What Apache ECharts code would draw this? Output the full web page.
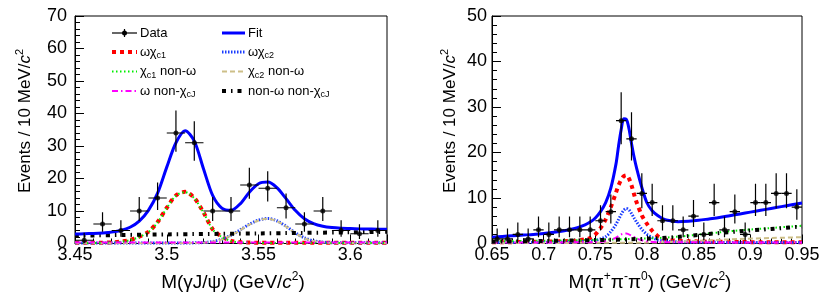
<!DOCTYPE html>
<html><head><meta charset="utf-8">
<script src="https://cdn.jsdelivr.net/npm/echarts@6/dist/echarts.min.js"></script>
<style>html,body{margin:0;padding:0;background:#fff}#c{width:830px;height:297px}</style>
</head><body><div id="c"></div>
<script>
// ---------------- Left panel: M(gamma J/psi) ----------------
const leftBins   = [3.455,3.465,3.475,3.485,3.495,3.505,3.515,3.525,3.535,3.545,3.555,3.565,3.575,3.585,3.595,3.605,3.615];
const leftCounts = [1,6,4,10,14,34,31,10,10,18,17,11,6,10,4,3,4];
const leftErrLo  = [0.83,2.38,1.91,3.11,3.7,5.8,5.55,3.11,3.11,4.2,4.1,3.27,2.38,3.11,1.91,1.63,1.91];
const leftErrHi  = [2.3,3.58,3.16,4.27,4.8,6.9,6.6,4.27,4.27,5.3,5.2,4.42,3.58,4.27,3.16,2.92,3.16];

const leftCurveX = [3.450,3.455,3.460,3.465,3.470,3.475,3.480,3.485,3.490,3.495,3.500,3.505,3.510,3.515,3.520,3.525,3.530,3.535,3.540,3.545,3.550,3.555,3.560,3.565,3.570,3.575,3.580,3.585,3.590,3.595,3.600,3.605,3.610,3.615,3.620];
const leftFit     = [2.9,3.0,3.1,3.25,3.5,4.0,5.0,6.9,10.2,15.5,23.5,31.0,34.7,31.5,23.0,14.8,10.9,10.2,12.2,15.8,18.4,18.9,17.2,13.8,10.2,7.6,6.1,5.3,4.9,4.7,4.6,4.5,4.45,4.4,4.4];
const leftWChic1  = [0.2,0.2,0.2,0.25,0.35,0.6,1.1,2.1,3.6,6.6,11.0,14.8,15.9,14.0,9.6,4.4,2.1,0.8,0.4,0.3,0.2,0.2,0.2,0.2,0.2,0.2,0.2,0.2,0.2,0.2,0.2,0.2,0.2,0.2,0.2];
const leftChic1NonW = [0.15,0.15,0.15,0.2,0.3,0.55,1.05,2.0,3.5,6.5,10.9,14.7,15.8,13.9,9.5,4.3,2.0,0.75,0.35,0.25,0.15,0.15,0.15,0.15,0.15,0.15,0.15,0.15,0.15,0.15,0.15,0.15,0.15,0.15,0.15];
const leftWChic2  = [0.15,0.15,0.15,0.15,0.15,0.15,0.15,0.15,0.15,0.15,0.15,0.15,0.15,0.2,0.3,0.6,1.3,2.5,4.2,5.9,7.2,7.7,7.0,5.3,3.3,1.7,0.8,0.4,0.25,0.2,0.2,0.2,0.2,0.2,0.2];
const leftChic2NonW = [0.1,0.1,0.1,0.1,0.1,0.1,0.1,0.1,0.1,0.1,0.1,0.1,0.1,0.15,0.25,0.55,1.25,2.45,4.1,5.8,7.1,7.6,6.9,5.2,3.2,1.6,0.75,0.35,0.2,0.15,0.15,0.15,0.15,0.15,0.15];
const leftWNonChiX = [3.45,3.62];
const leftWNonChi  = [0.3,0.3];
const leftBkgX = [3.45,3.50,3.55,3.60,3.62];
const leftBkg  = [2.4,2.8,3.1,3.45,3.6];

// ---------------- Right panel: M(pi+ pi- pi0) ----------------
const rightBins   = [0.655,0.665,0.675,0.685,0.695,0.705,0.715,0.725,0.735,0.745,0.755,0.765,0.775,0.785,0.795,0.805,0.815,0.825,0.835,0.845,0.855,0.865,0.875,0.885,0.895,0.905,0.915,0.925,0.935,0.945];
const rightCounts = [1,1,2,1,3,2,3,3,3,3,5,7,27,23,11,9,5,5,3,6,2,9,3,7,2,9,9,11,11,8];
const rightErrLo  = [0.83,0.83,1.29,0.83,1.63,1.29,1.63,1.63,1.63,1.63,2.16,2.58,5.16,4.77,3.27,2.94,2.16,2.16,1.63,2.38,1.29,2.94,1.63,2.58,1.29,2.94,2.94,3.27,3.27,2.77];
const rightErrHi  = [2.3,2.3,2.64,2.3,2.92,2.64,2.92,2.92,2.92,2.92,3.38,3.77,6.23,5.86,4.42,4.11,3.38,3.38,2.92,3.58,2.64,4.11,2.92,3.77,2.64,4.11,4.11,4.42,4.42,3.95];

const rightCurveX = [0.650,0.660,0.670,0.680,0.690,0.700,0.710,0.720,0.730,0.740,0.745,0.750,0.755,0.760,0.765,0.770,0.7725,0.775,0.7775,0.780,0.7825,0.785,0.7875,0.790,0.795,0.800,0.805,0.810,0.815,0.820,0.830,0.840,0.850,0.860,0.870,0.880,0.890,0.900,0.910,0.920,0.930,0.940,0.950];
const rightFit    = [1.4,1.55,1.7,1.85,2.0,2.2,2.45,2.8,3.3,4.1,4.7,5.6,7.0,9.0,12.2,17.5,21.5,25.0,27.4,27.3,25.3,22.0,19.0,16.5,12.3,8.9,7.2,6.2,5.5,5.1,4.8,4.9,5.1,5.4,5.7,6.1,6.5,6.9,7.3,7.7,8.1,8.5,8.9];
const rightWChic1 = [0.3,0.3,0.3,0.35,0.4,0.4,0.45,0.5,0.6,0.9,1.2,2.0,3.4,5.3,8.0,11.2,12.8,14.0,14.8,15.0,14.3,12.8,10.8,9.0,6.2,4.3,2.8,1.7,1.1,0.8,0.6,0.5,0.45,0.4,0.4,0.35,0.35,0.3,0.3,0.3,0.3,0.3,0.3];
const rightWChic2 = [0.2,0.2,0.2,0.2,0.2,0.25,0.25,0.3,0.35,0.45,0.55,0.7,1.0,1.5,2.6,4.2,5.3,6.4,7.3,7.7,7.4,6.6,5.6,4.7,3.1,2.0,1.3,0.8,0.6,0.45,0.35,0.3,0.25,0.25,0.25,0.2,0.2,0.2,0.2,0.2,0.2,0.2,0.2];
const rightWNonChiX = [0.65,0.75,0.76,0.765,0.77,0.775,0.78,0.785,0.79,0.795,0.80,0.81,0.95];
const rightWNonChi  = [0.2,0.3,0.5,0.8,1.3,2.0,2.2,1.7,1.1,0.7,0.45,0.3,0.2];
const rightBkgX = [0.65,0.70,0.75,0.80,0.83,0.86,0.89,0.92,0.95];
const rightChic1NonW = [0.5,0.6,0.8,1.1,1.5,2.2,2.9,3.4,3.9];
const rightBkg       = [0.4,0.55,0.75,1.05,1.45,2.1,2.7,3.2,3.75];
const rightChic2X = [0.65,0.75,0.80,0.83,0.86,0.89,0.92,0.95];
const rightChic2NonW = [0.1,0.15,0.2,0.4,0.7,1.0,1.2,1.4];

// axis ranges
const leftXRange = [3.45, 3.62], rightXRange = [0.65, 0.95];
const leftYMax = 70, rightYMax = 50;

// ---------------- drawing ----------------
const FONT = '"Liberation Sans", Arial, Helvetica, sans-serif';
const chart = echarts.init(document.getElementById('c'), null, {renderer: 'canvas'});
const pairs = (xs, ys) => xs.map((x, i) => [x, ys[i]]);

const styles = {
  fit:    {color: '#0000ff', width: 3, type: 'solid'},
  wc1:    {color: '#ff0000', width: 4, type: [4, 4]},
  wc2:    {color: '#1a3cff', width: 3, type: [1.5, 1.5]},
  c1nw:   {color: '#00ee00', width: 2, type: [1.5, 2.5]},
  c2nw:   {color: '#cdbf88', width: 2, type: [5, 3]},
  wnc:    {color: '#ff00ff', width: 2, type: [6, 3, 1.5, 3]},
  bkg:    {color: '#000000', width: 4, type: [4, 5, 1.5, 5]}
};

function curve(idx, data, st, z) {
  return {
    type: 'line', xAxisIndex: idx, yAxisIndex: idx, data: data,
    showSymbol: false, symbol: 'none', smooth: 0.3,
    lineStyle: {color: st.color, width: st.width, type: st.type, cap: 'butt'},
    z: z, silent: true, animation: false, clip: true
  };
}

function errSeries(idx, xs, ys, lo, hi, halfBin) {
  return {
    type: 'custom', xAxisIndex: idx, yAxisIndex: idx, z: 20, clip: true,
    data: xs.map((x, i) => [x, ys[i], lo[i], hi[i]]),
    encode: {x: 0, y: 1},
    renderItem: function (params, api) {
      const x = api.value(0), y = api.value(1), l = api.value(2), h = api.value(3);
      const a = api.coord([x, y - l]), b = api.coord([x, y + h]);
      const c = api.coord([x - halfBin, y]), d = api.coord([x + halfBin, y]);
      return {type: 'group', children: [
        {type: 'line', shape: {x1: a[0], y1: a[1], x2: b[0], y2: b[1]}, style: {stroke: '#000', lineWidth: 1.2}},
        {type: 'line', shape: {x1: c[0], y1: c[1], x2: d[0], y2: d[1]}, style: {stroke: '#000', lineWidth: 1.2}}
      ]};
    },
    animation: false
  };
}
function dotSeries(idx, xs, ys) {
  return {type: 'scatter', xAxisIndex: idx, yAxisIndex: idx, data: pairs(xs, ys),
    symbol: 'circle', symbolSize: 5, itemStyle: {color: '#000'}, z: 21, animation: false, silent: true};
}

function xAxis(gi, range, showMax) {
  return {
    type: 'value', gridIndex: gi, min: range[0], max: range[1], interval: 0.05,
    axisLine: {show: true, onZero: false, lineStyle: {color: '#000', width: 1}},
    axisTick: {show: true, inside: true, length: 9, lineStyle: {color: '#000'}},
    minorTick: {show: true, splitNumber: 5, length: 5, lineStyle: {color: '#000'}},
    splitLine: {show: false},
    axisLabel: {color: '#000', fontFamily: FONT, fontSize: 18, margin: 3, showMaxLabel: showMax,
      formatter: v => String(+v.toFixed(2))}
  };
}
function yAxis(gi, max, margin) {
  return {
    type: 'value', gridIndex: gi, min: 0, max: max, interval: 10,
    axisLine: {show: true, lineStyle: {color: '#000', width: 1}},
    axisTick: {show: true, inside: true, length: 9, lineStyle: {color: '#000'}},
    minorTick: {show: true, splitNumber: 5, length: 5, lineStyle: {color: '#000'}},
    splitLine: {show: false},
    axisLabel: {color: '#000', fontFamily: FONT, fontSize: 18, margin: margin}
  };
}

const series = [
  curve(0, pairs(leftCurveX, leftWChic1), styles.wc1, 2),
  curve(0, pairs(leftCurveX, leftWChic2), styles.wc2, 3),
  curve(0, pairs(leftCurveX, leftChic2NonW), styles.c2nw, 4),
  curve(0, pairs(leftCurveX, leftChic1NonW), styles.c1nw, 5),
  curve(0, pairs(leftWNonChiX, leftWNonChi), styles.wnc, 6),
  curve(0, pairs(leftBkgX, leftBkg), styles.bkg, 7),
  curve(0, pairs(leftCurveX, leftFit), styles.fit, 10),
  errSeries(0, leftBins, leftCounts, leftErrLo, leftErrHi, 0.005),
  dotSeries(0, leftBins, leftCounts),

  curve(1, pairs(rightCurveX, rightWChic1), styles.wc1, 2),
  curve(1, pairs(rightCurveX, rightWChic2), styles.wc2, 3),
  curve(1, pairs(rightChic2X, rightChic2NonW), styles.c2nw, 4),
  curve(1, pairs(rightBkgX, rightChic1NonW), styles.c1nw, 5),
  curve(1, pairs(rightWNonChiX, rightWNonChi), styles.wnc, 6),
  curve(1, pairs(rightBkgX, rightBkg), styles.bkg, 7),
  curve(1, pairs(rightCurveX, rightFit), styles.fit, 10),
  errSeries(1, rightBins, rightCounts, rightErrLo, rightErrHi, 0.005),
  dotSeries(1, rightBins, rightCounts)
];

// ---------------- titles and legend (graphic) ----------------
function title(x, y, text, size, rot) {
  return {type: 'text', x: x, y: y, rotation: rot || 0, silent: true, z: 50,
    style: {text: text, fontFamily: FONT, fontSize: size, lineHeight: size + 5, fill: '#000',
      align: 'center', verticalAlign: 'middle',
      rich: {
        i: {fontFamily: FONT, fontSize: size, fontStyle: 'italic', lineHeight: size + 5, fill: '#000'},
        sup: {fontFamily: FONT, fontSize: Math.round(size * 0.63), lineHeight: Math.round(size * 0.63), verticalAlign: 'top', fill: '#000'}
      }}};
}
const legRich = {
  sub: {fontFamily: FONT, fontSize: 9, lineHeight: 9, verticalAlign: 'bottom', fill: '#000'}
};
function legText(x, y, text) {
  return {type: 'text', x: x, y: y, silent: true, z: 50,
    style: {text: text, fontFamily: FONT, fontSize: 13, lineHeight: 17, fill: '#000',
      align: 'left', verticalAlign: 'middle', rich: legRich}};
}
function legLine(x1, x2, y, st) {
  return {type: 'line', silent: true, z: 50, shape: {x1: x1, y1: y, x2: x2, y2: y},
    style: {stroke: st.color, lineWidth: st.width, lineDash: st.type === 'solid' ? null : st.type}};
}
const rows = [33, 52, 71.5, 91];
const c1a = 112, c1b = 137, c1t = 140, c2a = 222, c2b = 245, c2t = 248;
const graphics = [
  title(25, 121, 'Events / 10 MeV/{i|c}{sup|2}', 17, Math.PI / 2),
  title(450, 121, 'Events / 10 MeV/{i|c}{sup|2}', 17, Math.PI / 2),
  title(233, 283, 'M(γJ/ψ) (GeV/{i|c}{sup|2})', 19),
  title(650, 283, 'M(π{sup|+}π{sup|-}π{sup|0}) (GeV/{i|c}{sup|2})', 19),
  // Data legend entry
  {type: 'line', silent: true, z: 50, shape: {x1: c1a, y1: rows[0], x2: c1b, y2: rows[0]}, style: {stroke: '#000', lineWidth: 1.2}},
  {type: 'line', silent: true, z: 50, shape: {x1: (c1a + c1b) / 2, y1: rows[0] - 4, x2: (c1a + c1b) / 2, y2: rows[0] + 4}, style: {stroke: '#000', lineWidth: 1.2}},
  {type: 'circle', silent: true, z: 51, shape: {cx: (c1a + c1b) / 2, cy: rows[0], r: 2.5}, style: {fill: '#000'}},
  legText(c1t, rows[0], 'Data'),
  legLine(c2a, c2b, rows[0], styles.fit), legText(c2t, rows[0], 'Fit'),
  legLine(c1a, c1b, rows[1], styles.wc1), legText(c1t, rows[1], 'ωχ{sub|c1}'),
  legLine(c2a, c2b, rows[1], styles.wc2), legText(c2t, rows[1], 'ωχ{sub|c2}'),
  legLine(c1a, c1b, rows[2], styles.c1nw), legText(c1t, rows[2], 'χ{sub|c1} non-ω'),
  legLine(c2a, c2b, rows[2], styles.c2nw), legText(c2t, rows[2], 'χ{sub|c2} non-ω'),
  legLine(c1a, c1b, rows[3], styles.wnc), legText(c1t, rows[3], 'ω non-χ{sub|cJ}'),
  legLine(c2a, c2b, rows[3], styles.bkg), legText(c2t, rows[3], 'non-ω non-χ{sub|cJ}')
];

chart.setOption({
  animation: false,
  backgroundColor: '#fff',
  grid: [
    {left: 75, top: 16, width: 312, height: 227.5, show: true, borderColor: '#000', borderWidth: 1, backgroundColor: 'transparent'},
    {left: 492, top: 16, width: 310, height: 227.5, show: true, borderColor: '#000', borderWidth: 1, backgroundColor: 'transparent'}
  ],
  xAxis: [xAxis(0, leftXRange, false), xAxis(1, rightXRange, true)],
  yAxis: [yAxis(0, leftYMax, 8), yAxis(1, rightYMax, 5)],
  series: series,
  graphic: graphics
});
</script></body></html>
